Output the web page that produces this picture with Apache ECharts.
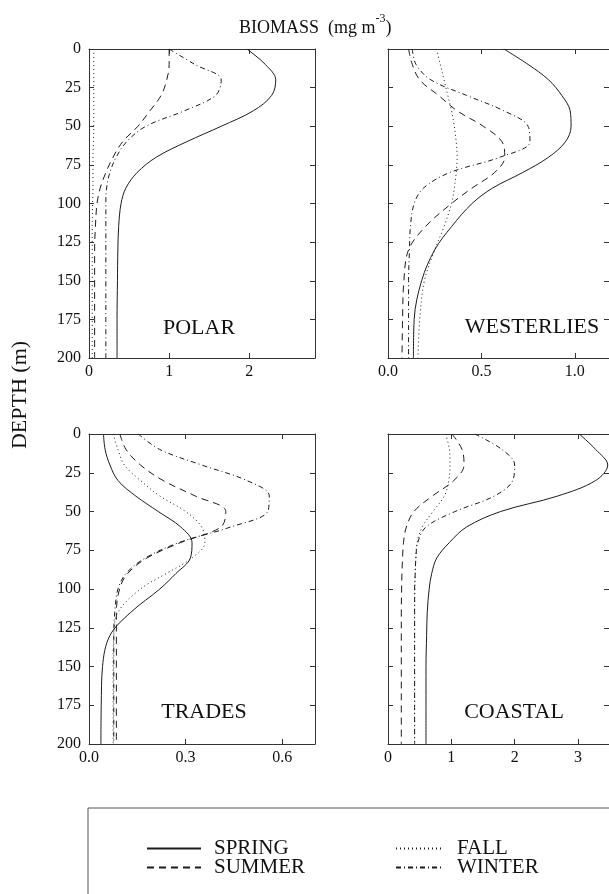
<!DOCTYPE html>
<html>
<head>
<meta charset="utf-8">
<script src="https://cdn.jsdelivr.net/npm/echarts@6/dist/echarts.min.js"></script>
<style>
  html, body { margin: 0; padding: 0; background: #ffffff; }
  #chart { width: 609px; height: 894px; }
</style>
</head>
<body>
<div id="chart"></div>
<script>
// ---- Data (depth in m, biomass in mg m^-3) ----
const depths = [0, 10, 20, 30, 40, 50, 60, 70, 80, 90, 100, 115, 130, 150, 175, 200];
const seasons = ['SPRING', 'SUMMER', 'FALL', 'WINTER'];
const panelNames = ['POLAR', 'WESTERLIES', 'TRADES', 'COASTAL'];

const polarSpring = [1.97, 2.2, 2.33, 2.28, 2.05, 1.65, 1.22, 0.84, 0.6, 0.46, 0.40, 0.37, 0.36, 0.355, 0.35, 0.35];
const polarSummer = [1.0, 1.0, 0.97, 0.9, 0.76, 0.61, 0.42, 0.3, 0.21, 0.14, 0.10, 0.08, 0.07, 0.07, 0.07, 0.07];
const polarFall   = [0.06, 0.06, 0.06, 0.06, 0.06, 0.06, 0.055, 0.05, 0.05, 0.05, 0.045, 0.04, 0.04, 0.04, 0.04, 0.04];
const polarWinter = [1.0, 1.32, 1.65, 1.58, 1.19, 0.71, 0.47, 0.34, 0.26, 0.22, 0.21, 0.21, 0.21, 0.21, 0.21, 0.21];

const westSpring = [0.62, 0.75, 0.86, 0.93, 0.975, 0.98, 0.95, 0.86, 0.72, 0.56, 0.45, 0.34, 0.25, 0.18, 0.14, 0.136];
const westSummer = [0.11, 0.13, 0.17, 0.27, 0.37, 0.51, 0.61, 0.625, 0.57, 0.45, 0.34, 0.2, 0.11, 0.085, 0.078, 0.075];
const westFall   = [0.26, 0.28, 0.30, 0.32, 0.34, 0.355, 0.365, 0.37, 0.365, 0.355, 0.34, 0.30, 0.25, 0.195, 0.17, 0.16];
const westWinter = [0.13, 0.15, 0.23, 0.42, 0.62, 0.75, 0.76, 0.60, 0.33, 0.19, 0.14, 0.12, 0.115, 0.11, 0.11, 0.11];

const tradesSpring = [0.045, 0.05, 0.065, 0.09, 0.145, 0.215, 0.285, 0.32, 0.315, 0.27, 0.22, 0.13, 0.065, 0.042, 0.038, 0.037];
const tradesSummer = [0.096, 0.115, 0.16, 0.23, 0.33, 0.425, 0.41, 0.285, 0.18, 0.12, 0.095, 0.085, 0.085, 0.085, 0.085, 0.085];
const tradesFall   = [0.075, 0.09, 0.11, 0.16, 0.22, 0.30, 0.35, 0.36, 0.32, 0.24, 0.16, 0.09, 0.077, 0.075, 0.075, 0.075];
const tradesWinter = [0.153, 0.22, 0.35, 0.49, 0.56, 0.555, 0.44, 0.28, 0.175, 0.115, 0.09, 0.08, 0.077, 0.077, 0.077, 0.077];

const coastSpring = [3.02, 3.28, 3.47, 3.28, 2.68, 1.78, 1.24, 0.97, 0.77, 0.69, 0.65, 0.62, 0.61, 0.60, 0.60, 0.60];
const coastSummer = [1.01, 1.17, 1.2, 1.04, 0.70, 0.41, 0.29, 0.245, 0.23, 0.22, 0.215, 0.21, 0.21, 0.21, 0.21, 0.21];
const coastFall   = [0.91, 0.97, 0.98, 0.96, 0.89, 0.71, 0.54, 0.46, 0.44, 0.43, 0.425, 0.42, 0.42, 0.42, 0.42, 0.42];
const coastWinter = [1.37, 1.8, 2.0, 1.97, 1.68, 1.06, 0.60, 0.47, 0.44, 0.43, 0.42, 0.42, 0.42, 0.42, 0.42, 0.42];

// x-axis tick settings per panel
const xTickInterval = [1, 0.5, 0.3, 1];
const xTickDecimals = [0, 1, 1, 0];
const xMax = [2.82, 1.183, 0.702, 3.49];
const depthTicks = [0, 25, 50, 75, 100, 125, 150, 175, 200];

const panelSeries = [
  [polarSpring, polarSummer, polarFall, polarWinter],
  [westSpring, westSummer, westFall, westWinter],
  [tradesSpring, tradesSummer, tradesFall, tradesWinter],
  [coastSpring, coastSummer, coastFall, coastWinter]
];

// ---- Layout / style ----
const FONT = '"Liberation Serif", "DejaVu Serif", serif';
const INK = '#1c1c1c';
const gridBoxes = [
  { left: 89,  top: 49,  width: 226, height: 309 },
  { left: 388, top: 49,  width: 226, height: 309 },
  { left: 89,  top: 434, width: 226, height: 310 },
  { left: 388, top: 434, width: 226, height: 310 }
];
const lineTypes = ['solid', [7, 5], [1, 3], [5, 3, 1, 3]];
const labelPos = [[199, 328], [532, 327], [204, 712], [514, 712]];

const axisLineStyle = { color: '#333', width: 1 };
const grids = [], xAxes = [], yAxes = [], series = [];

gridBoxes.forEach((b, g) => {
  grids.push(Object.assign({ containLabel: false }, b));
  const common = {
    type: 'value', gridIndex: g, min: 0, max: xMax[g], interval: xTickInterval[g],
    axisLine: { show: true, onZero: false, lineStyle: axisLineStyle },
    axisTick: { show: true, inside: true, length: 5, lineStyle: axisLineStyle },
    splitLine: { show: false }
  };
  xAxes.push(Object.assign({}, common, {
    position: 'bottom',
    axisLabel: {
      show: true, fontFamily: FONT, fontSize: 16, color: '#111', margin: 6,
      showMaxLabel: false,
      formatter: v => (Math.abs(v / xTickInterval[g] - Math.round(v / xTickInterval[g])) < 1e-6) ? v.toFixed(xTickDecimals[g]) : ''
    }
  }));
  xAxes.push(Object.assign({}, common, { position: 'top', axisLabel: { show: false } }));
  const ycommon = {
    type: 'value', gridIndex: g, min: depthTicks[0], max: depthTicks[depthTicks.length - 1], interval: 25, inverse: true,
    axisLine: { show: true, onZero: false, lineStyle: axisLineStyle },
    axisTick: { show: true, inside: true, length: 5, lineStyle: axisLineStyle },
    splitLine: { show: false }
  };
  yAxes.push(Object.assign({}, ycommon, {
    position: 'left',
    axisLabel: { show: g % 2 === 0, fontFamily: FONT, fontSize: 16, color: '#111', margin: 8 }
  }));
  yAxes.push(Object.assign({}, ycommon, { position: 'right', axisLabel: { show: false } }));

  panelSeries[g].forEach((vals, s) => {
    series.push({
      name: seasons[s],
      type: 'line',
      xAxisIndex: 2 * g,
      yAxisIndex: 2 * g,
      data: depths.map((d, i) => [vals[i], d]),
      symbol: 'none',
      smooth: 0.35,
      silent: true,
      lineStyle: { color: INK, width: 1, type: lineTypes[s] },
      itemStyle: { color: INK }
    });
  });
});

const graphics = [
  {
    type: 'text', x: 20, y: 395, rotation: Math.PI / 2,
    style: { text: 'DEPTH (m)', font: '22px ' + FONT, fill: '#111', textAlign: 'center', textVerticalAlign: 'middle' }
  },
  {
    type: 'rect', shape: { x: 88, y: 808, width: 600, height: 200 },
    style: { fill: 'none', stroke: '#555', lineWidth: 1 }, silent: true
  }
];
panelNames.forEach((n, i) => {
  graphics.push({
    type: 'text', x: labelPos[i][0], y: labelPos[i][1],
    style: { text: n, font: '22px ' + FONT, fill: '#111', textAlign: 'center', textVerticalAlign: 'middle' }
  });
});

const legendText = { fontFamily: FONT, fontSize: 21, color: '#111', lineHeight: 19, padding: [0, 0, 0, 8] };
const legendCommon = {
  orient: 'vertical', top: 833, itemHeight: 10, itemGap: -2, selectedMode: false,
  textStyle: legendText,
  itemStyle: { opacity: 0 }
};
const option = {
  animation: false,
  backgroundColor: '#ffffff',
  title: {
    text: '{a|BIOMASS  (mg m}{b|-3}{a|)}',
    left: 234, top: 8,
    textStyle: {
      fontWeight: 'normal',
      rich: {
        a: { fontFamily: FONT, fontSize: 18, fontWeight: 'normal', color: '#111', lineHeight: 30 },
        b: { fontFamily: FONT, fontSize: 12, fontWeight: 'normal', color: '#111', lineHeight: 30, verticalAlign: 'top' }
      }
    }
  },
  grid: grids,
  xAxis: xAxes,
  yAxis: yAxes,
  legend: [
    Object.assign({ data: ['SPRING', 'SUMMER'], left: 141, itemWidth: 54 }, legendCommon),
    Object.assign({ data: ['FALL', 'WINTER'], left: 390, itemWidth: 48 }, legendCommon)
  ],
  graphic: graphics,
  series: series
};

const chart = echarts.init(document.getElementById('chart'), null, { renderer: 'canvas' });
chart.setOption(option);
</script>
</body>
</html>
